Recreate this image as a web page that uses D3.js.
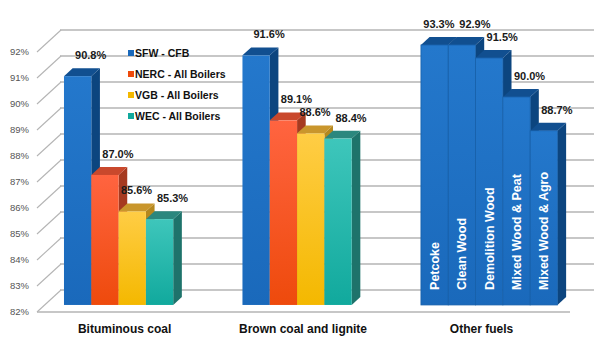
<!DOCTYPE html>
<html>
<head>
<meta charset="utf-8">
<script src="https://cdnjs.cloudflare.com/ajax/libs/d3/7.8.5/d3.min.js"></script>
<style>
  body { margin: 0; background: #fff; }
  svg { display: block; font-family: "Liberation Sans", Arial, sans-serif; }
</style>
</head>
<body>
<div id="chart"></div>
<script>
// categories and series
const categories = ["Bituminous coal", "Brown coal and lignite", "Other fuels"];
const seriesNames = ["SFW - CFB", "NERC - All Boilers", "VGB - All Boilers", "WEC - All Boilers"];
const bituminous = [90.8, 87.0, 85.6, 85.3];
const brownCoal = [91.6, 89.1, 88.6, 88.4];
const otherFuelNames = ["Petcoke", "Clean Wood", "Demolition Wood", "Mixed Wood & Peat", "Mixed Wood & Agro"];
const otherFuels = [93.3, 92.9, 91.5, 90.0, 88.7];
const yTicks = [82, 83, 84, 85, 86, 87, 88, 89, 90, 91, 92];

const width = 600, height = 343;

// depth projection (front plane -> back wall)
const DX = 24, DY = 22;
const zFront = 0.32, zBack = 0.68;

const palette = [
  { front: ["#2478cc", "#1a69bb"], top: "#114f90", side: "#0c457f" },
  { front: ["#ff6440", "#ee4a0c"], top: "#c9482c", side: "#a63a20" },
  { front: ["#ffcd45", "#f4b800"], top: "#c9962c", side: "#b5881e" },
  { front: ["#3ec6bb", "#11a99d"], top: "#2b877e", side: "#1e736b" }
];

const svg = d3.select("#chart").append("svg")
  .attr("width", width)
  .attr("height", height);

const defs = svg.append("defs");
palette.forEach((p, i) => {
  const g = defs.append("linearGradient")
    .attr("id", "grad" + i)
    .attr("x1", 0).attr("y1", 0).attr("x2", 0).attr("y2", 1);
  g.append("stop").attr("offset", "0%").attr("stop-color", p.front[0]);
  g.append("stop").attr("offset", "100%").attr("stop-color", p.front[1]);
});

const y = d3.scaleLinear().domain([82, 92]).range([312, 52]).clamp(true);

const xCat = d3.scaleBand()
  .domain(categories)
  .range([56.3, 549.8])
  .paddingInner(0.235)
  .paddingOuter(0);

const xInner = d3.scaleBand()
  .domain(d3.range(5))
  .range([0, xCat.bandwidth()])
  .padding(0);

const P = (x, v, z) => [x + z * DX, y(v) - z * DY];

// back wall gridlines
const wallRight = 594;
svg.append("g").selectAll("line")
  .data(yTicks)
  .join("line")
  .attr("x1", P(37, 0, 1)[0] - 1)
  .attr("x2", wallRight)
  .attr("y1", d => P(0, d, 1)[1])
  .attr("y2", d => P(0, d, 1)[1])
  .attr("stroke", "#b4b4b4")
  .attr("stroke-width", 1.3);

// side wall diagonals
svg.append("g").selectAll("line")
  .data(yTicks)
  .join("line")
  .attr("x1", d => P(37, d, 0)[0])
  .attr("y1", d => P(37, d, 0)[1])
  .attr("x2", d => P(37, d, 1)[0])
  .attr("y2", d => P(37, d, 1)[1])
  .attr("stroke", "#b4b4b4")
  .attr("stroke-width", 1.1);

// floor front edge
svg.append("line")
  .attr("x1", 37).attr("x2", wallRight - DX)
  .attr("y1", y(82)).attr("y2", y(82))
  .attr("stroke", "#b4b4b4")
  .attr("stroke-width", 1.6);

// y labels
svg.append("g").selectAll("text")
  .data(yTicks)
  .join("text")
  .attr("x", 29)
  .attr("y", d => y(d))
  .attr("dy", "0.35em")
  .attr("text-anchor", "end")
  .attr("font-size", 9.5)
  .attr("fill", "#555")
  .text(d => d + "%");

// bar records
const bars = [];
bituminous.forEach((v, i) => bars.push({ cat: categories[0], i, v, c: i }));
brownCoal.forEach((v, i) => bars.push({ cat: categories[1], i, v, c: i }));
otherFuels.forEach((v, i) => bars.push({ cat: categories[2], i, v, c: 0, name: otherFuelNames[i] }));

const bw = xInner.bandwidth();
const pts = a => a.map(p => p.join(",")).join(" ");

const barG = svg.append("g");
bars.forEach(b => {
  const x0 = xCat(b.cat) + xInner(b.i);
  const x1 = x0 + bw;
  const p = palette[b.c];
  const g = barG.append("g");
  const fl = P(x0, b.v, zFront), fr = P(x1, b.v, zFront);
  const bl = P(x0, 82, zFront), br = P(x1, 82, zFront);
  const tl = P(x0, b.v, zBack), tr = P(x1, b.v, zBack);
  const sb = P(x1, 82, zBack);
  // side face
  g.append("polygon")
    .attr("points", pts([fr, tr, sb, br]))
    .attr("fill", p.side);
  // top face
  g.append("polygon")
    .attr("points", pts([fl, tl, tr, fr]))
    .attr("fill", p.top);
  // front face
  g.append("rect")
    .attr("x", fl[0]).attr("y", fl[1])
    .attr("width", bw).attr("height", bl[1] - fl[1])
    .attr("fill", `url(#grad${b.c})`)
    .attr("stroke", b.name ? "#1760aa" : "none")
    .attr("stroke-width", 0.8);
  b.front = fl;
  b.cx = fl[0] + bw / 2;
  if (b.name) {
    g.append("text")
      .attr("transform", `translate(${b.cx},${bl[1] - 15}) rotate(-90)`)
      .attr("dy", "0.35em")
      .attr("fill", "#fff")
      .attr("font-size", 12.5)
      .attr("font-weight", "bold")
      .text(b.name);
  }
});

// value labels, pushing left ones aside when they collide
const labelG = svg.append("g");
const labels = bars.map(b => ({
  x: b.cx + 13,
  y: b.front[1] - 17,
  text: b.v.toFixed(1) + "%",
  cat: b.cat
}));
for (let k = labels.length - 1; k > 0; k--) {
  const a = labels[k - 1], b = labels[k];
  if (a.cat === b.cat && Math.abs(a.y - b.y) < 12 && b.x - a.x < 36) {
    a.x = b.x - 36;
  }
}
labelG.selectAll("text")
  .data(labels)
  .join("text")
  .attr("x", d => d.x)
  .attr("y", d => d.y)
  .attr("text-anchor", "middle")
  .attr("font-size", 11)
  .attr("font-weight", "bold")
  .attr("fill", "#1a1a1a")
  .text(d => d.text);

// legend
const legend = svg.append("g").selectAll("g")
  .data(seriesNames)
  .join("g")
  .attr("transform", (d, i) => `translate(128,${53 + i * 21})`);
legend.append("rect")
  .attr("x", 0).attr("y", -3)
  .attr("width", 6).attr("height", 6)
  .attr("fill", (d, i) => palette[i].front[1]);
legend.append("text")
  .attr("x", 7)
  .attr("dy", "0.35em")
  .attr("font-size", 10.5)
  .attr("font-weight", "bold")
  .attr("fill", "#111")
  .text(d => d);

// category labels
svg.append("g").selectAll("text")
  .data(categories)
  .join("text")
  .attr("x", d => xCat(d) + xCat.bandwidth() / 2)
  .attr("y", 333)
  .attr("text-anchor", "middle")
  .attr("font-size", 12)
  .attr("font-weight", "bold")
  .attr("fill", "#111")
  .text(d => d);
</script>
</body>
</html>
